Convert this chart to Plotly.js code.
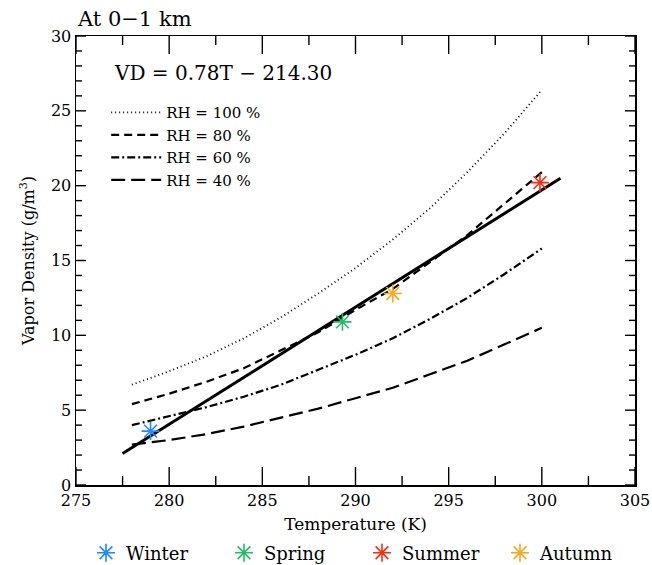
<!DOCTYPE html>
<html>
<head>
<meta charset="utf-8">
<script src="https://cdn.plot.ly/plotly-3.0.1.min.js"></script>
<style>html,body{margin:0;padding:0;background:#fff;}#chart{width:652px;height:565px;}</style>
</head>
<body>
<div id="chart"></div>
<script>
// Temperature grid (K) for the RH curves
const temps = [278, 280, 282, 284, 286, 288, 290, 292, 294, 296, 298, 300];
// Vapor density (g/m^3)
const rh100 = [6.7, 7.6, 8.6, 9.8, 11.2, 12.8, 14.5, 16.4, 18.5, 20.9, 23.5, 26.4];
const rh80  = [5.4, 6.1, 6.9, 7.8, 9.0, 10.2, 11.7, 13.1, 14.9, 16.7, 18.8, 20.9];
const rh60  = [4.0, 4.6, 5.2, 5.9, 6.7, 7.7, 8.7, 9.8, 11.1, 12.5, 14.1, 15.8];
const rh40  = [2.7, 3.0, 3.4, 3.9, 4.5, 5.1, 5.8, 6.5, 7.4, 8.3, 9.4, 10.5];
const rhNames = ["RH = 100 %", "RH = 80 %", "RH = 60 %", "RH = 40 %"];

// Fit line endpoints: VD = 0.78T - 214.30
const fitT = [277.5, 301.0];
const fitVD = [2.1, 20.5];
const fitLabel = "VD = 0.78T \u2212 214.30";

// Seasonal means
const seasons = ["Winter", "Spring", "Summer", "Autumn"];
const seasonT = [279.0, 289.3, 299.9, 292.0];
const seasonVD = [3.6, 10.9, 20.2, 12.8];
const seasonColors = ["#1a8cff", "#1fbf6a", "#ff2a10", "#ffa51a"];

// Axis ticks
const xRange = [275, 305];
const yRange = [0, 30];
const xMajor = [275, 280, 285, 290, 295, 300, 305];
const xMinor = [277.5, 282.5, 287.5, 292.5, 297.5, 302.5];
const yMajor = [0, 5, 10, 15, 20, 25, 30];
const yMinor = [1, 2, 3, 4, 6, 7, 8, 9, 11, 12, 13, 14, 16, 17, 18, 19, 21, 22, 23, 24, 26, 27, 28, 29];

const FONT = "DejaVu Serif";
const W = 652, H = 565, M = {l: 76, r: 17, t: 36, b: 80};
const PW = W - M.l - M.r, PH = H - M.t - M.b;
const rhDash = ["1px,3px", "8px,5px", "8px,3px,2px,3px", "14px,6px"];
const rhData = [rh100, rh80, rh60, rh40];
const xSpan = xRange[1] - xRange[0], ySpan = yRange[1] - yRange[0];

const traces = [];
// Inward tick marks on all four sides, built from the tick arrays,
// drawn as short line markers (length in px converted to axis units)
function xTickTrace(vals, lenPx) {
  const h = lenPx / 2 / PH * ySpan;
  const xs = [], ys = [];
  vals.forEach(v => { xs.push(v, v); ys.push(yRange[0] + h, yRange[1] - h); });
  traces.push({x: xs, y: ys, type: "scatter", mode: "markers", showlegend: false, hoverinfo: "skip", cliponaxis: false,
    marker: {symbol: "line-ns-open", size: lenPx / 1.4, color: "#000", line: {color: "#000", width: 1.4}}});
}
function yTickTrace(vals, lenPx) {
  const h = lenPx / 2 / PW * xSpan;
  const xs = [], ys = [];
  vals.forEach(v => { xs.push(xRange[0] + h, xRange[1] - h); ys.push(v, v); });
  traces.push({x: xs, y: ys, type: "scatter", mode: "markers", showlegend: false, hoverinfo: "skip", cliponaxis: false,
    marker: {symbol: "line-ew-open", size: lenPx / 1.4, color: "#000", line: {color: "#000", width: 1.4}}});
}
xTickTrace(xMajor, 18); xTickTrace(xMinor, 9);
yTickTrace(yMajor, 10); yTickTrace(yMinor, 6);

rhData.forEach((v, i) => {
  traces.push({
    x: temps, y: v, type: "scatter", mode: "lines", name: rhNames[i],
    line: {color: "#000", width: i === 0 ? 1.8 : 2.2, dash: rhDash[i]},
    legend: "legend", hoverinfo: "skip"
  });
});
traces.push({
  x: fitT, y: fitVD, type: "scatter", mode: "lines", name: "fit",
  line: {color: "#000", width: 3}, showlegend: false
});
seasons.forEach((s, i) => {
  traces.push({
    x: [seasonT[i]], y: [seasonVD[i]], type: "scatter", mode: "markers", name: s,
    marker: {symbol: "asterisk-open", size: 15, color: seasonColors[i], line: {color: seasonColors[i], width: 1.6}},
    legend: "legend2"
  });
});

function axisBase() {
  return {
    showline: true, linecolor: "#000", linewidth: 1.5, mirror: true,
    ticks: "inside", tickcolor: "rgba(0,0,0,0)", ticklen: 5,
    showgrid: false, zeroline: false, tickmode: "array",
    tickfont: {family: FONT, size: 16, color: "#000"}
  };
}

const layout = {
  width: W, height: H,
  margin: {l: M.l, r: M.r, t: M.t, b: M.b, autoexpand: false},
  paper_bgcolor: "#fff", plot_bgcolor: "#fff",
  font: {family: FONT, color: "#000"},
  title: {text: "At 0\u22121 km", x: 78 / W, xanchor: "left", xref: "container",
          y: 1 - 19 / H, yanchor: "middle", yref: "container",
          font: {family: FONT, size: 21, color: "#000"}},
  xaxis: Object.assign(axisBase(), {
    range: xRange, tickvals: xMajor,
    title: {text: "Temperature (K)", standoff: 9, font: {family: FONT, size: 17, color: "#000"}}
  }),
  yaxis: Object.assign(axisBase(), {
    range: yRange, tickvals: yMajor,
    title: {text: "Vapor Density (g/m<sup>3</sup>)", standoff: 12, font: {family: FONT, size: 16, color: "#000"}}
  }),
  legend: {
    x: 0.054, y: 0.866, xanchor: "left", yanchor: "top",
    bgcolor: "rgba(0,0,0,0)", borderwidth: 0,
    font: {family: FONT, size: 15, color: "#000"},
    tracegroupgap: 0, itemwidth: 50
  },
  legend2: {
    orientation: "h", xref: "container", yref: "container",
    x: 86 / W, y: 1 - 553 / H, xanchor: "left", yanchor: "middle",
    bgcolor: "rgba(0,0,0,0)", borderwidth: 0,
    entrywidth: 93, entrywidthmode: "pixels",
    font: {family: FONT, size: 18, color: "#000"}
  },
  annotations: [{
    text: fitLabel, xref: "paper", yref: "paper", x: 0.064, y: 0.918,
    xanchor: "left", yanchor: "middle", showarrow: false,
    font: {family: FONT, size: 20, color: "#000"}
  }],
  showlegend: true
};

Plotly.newPlot("chart", traces, layout, {displayModeBar: false, staticPlot: true});
</script>
</body>
</html>
